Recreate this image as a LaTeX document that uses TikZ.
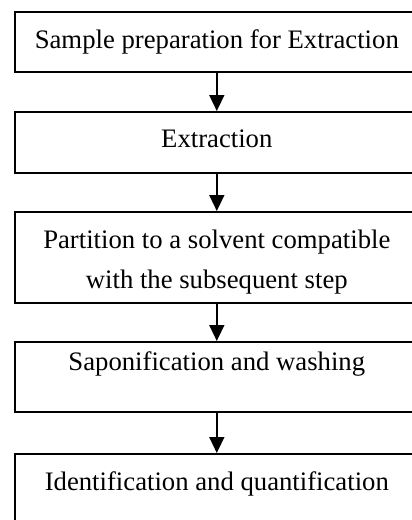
\documentclass[tikz,border=0pt]{standalone}
\usepackage{fontspec}
\setmainfont{Liberation Serif}
\usetikzlibrary{arrows.meta,positioning}

\begin{document}
\begin{tikzpicture}[x=1pt,y=-1pt,
    stepbox/.style={draw, line width=1.6pt, rectangle, minimum width=404pt, inner sep=0pt, align=center, font=\fontsize{26.7}{40}\selectfont},
    flow/.style={-{Triangle[width=15pt,length=16pt]}, line width=1.6pt}]
  \useasboundingbox (0,0) rectangle (412,520);
  \clip (0,0) rectangle (412,520);
  \node[stepbox, anchor=north west, text height=37pt, text depth=23pt] (prep) at (14,11) {Sample preparation for Extraction};
  \node[stepbox, below=38.4pt of prep, text height=36pt, text depth=25pt] (extr) {Extraction};
  \node[stepbox, below=37.4pt of extr, text height=77pt, text depth=14pt] (part) {Partition to a solvent compatible\\with the subsequent step};
  \node[stepbox, below=37.4pt of part, text height=29pt, text depth=41pt] (sapo) {Saponification and washing};
  \node[stepbox, below=40.4pt of sapo, text height=37pt, text depth=50pt] (ident) {Identification and quantification};
  \draw[flow] (prep) -- (extr);
  \draw[flow] (extr) -- (part);
  \draw[flow] (part) -- (sapo);
  \draw[flow] (sapo) -- (ident);
\end{tikzpicture}
\end{document}
